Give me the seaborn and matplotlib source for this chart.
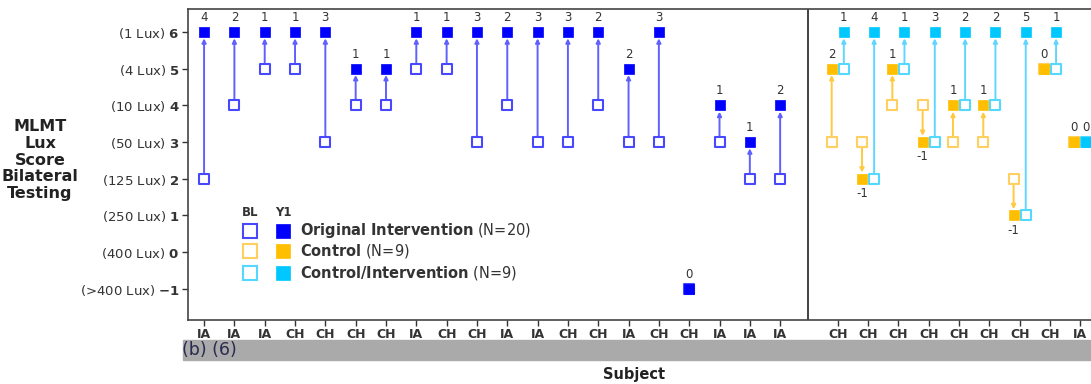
import numpy as np
import pandas as pd
import seaborn as sns
import matplotlib.pyplot as plt

# ---------------- data ----------------
y_levels = [6, 5, 4, 3, 2, 1, 0, -1]
y_lux = ["(1 Lux)", "(4 Lux)", "(10 Lux)", "(50 Lux)", "(125 Lux)", "(250 Lux)", "(400 Lux)", "(>400 Lux)"]

orig_subject = ["IA", "IA", "IA", "CH", "CH", "CH", "CH", "IA", "CH", "CH",
                "IA", "IA", "CH", "CH", "IA", "CH", "CH", "IA", "IA", "IA"]
orig_bl = [2, 4, 5, 5, 3, 4, 4, 5, 5, 3, 4, 3, 3, 4, 3, 3, -1, 3, 2, 2]
orig_y1 = [6, 6, 6, 6, 6, 5, 5, 6, 6, 6, 6, 6, 6, 6, 5, 6, -1, 4, 3, 4]

ci_subject = ["CH", "CH", "CH", "CH", "CH", "CH", "CH", "CH", "IA"]
ctrl_bl = [3, 3, 4, 4, 3, 3, 2, 5, 3]
ctrl_y1 = [5, 2, 5, 3, 4, 4, 1, 5, 3]
cint_bl = [5, 2, 5, 3, 4, 4, 1, 5, 3]
cint_y1 = [6, 6, 6, 6, 6, 6, 6, 6, 3]

legend_labels = [("Original Intervention", "(N=20)"), ("Control", "(N=9)"), ("Control/Intervention", "(N=9)")]

# ---------------- style ----------------
sns.set_theme(style="white")
plt.rcParams["font.family"] = ["DejaVu Sans", "Liberation Sans"]
plt.rcParams["mathtext.fontset"] = "custom"
plt.rcParams["mathtext.rm"] = "DejaVu Sans"
plt.rcParams["mathtext.bf"] = "DejaVu Sans:bold"

BLUE_F, BLUE_E, BLUE_L = "#0000ff", "#4848ff", "#6060ff"
ORG_F, ORG_E, ORG_L = "#ffbf00", "#ffd060", "#ffca40"
CYN_F, CYN_E, CYN_L = "#00c8ff", "#55d8ff", "#60d6ff"
DARK = "#333333"

W, H = 1091, 384
fig = plt.figure(figsize=(W / 100, H / 100), dpi=100)

x_min, x_max = -0.53, 29.6
px_per_unit = 30.32
ax_left = 188 / W
ax_width = (x_max - x_min) * px_per_unit / W
ax_bottom = (H - 320) / H
ax_height = (320 - 9) / H
ax = fig.add_axes([ax_left, ax_bottom, ax_width, ax_height])

# positions
x_orig = np.arange(len(orig_subject), dtype=float)
x_ci = 20.9 + np.arange(len(ci_subject), dtype=float)
off = 0.2


def draw_series(xs, bl, y1, fc, ec, lc):
    df = pd.DataFrame({"x": xs, "bl": bl, "y1": y1})
    for _, r in df.iterrows():
        if r.bl != r.y1:
            ax.annotate("", xy=(r.x, r.y1), xytext=(r.x, r.bl),
                        arrowprops=dict(arrowstyle="-|>", color=lc, lw=1.4,
                                        shrinkA=4.5, shrinkB=4.5, mutation_scale=6),
                        zorder=2)
    sns.scatterplot(data=df, x="x", y="bl", marker="s", s=58, color="white",
                    edgecolor=ec, linewidth=1.5, ax=ax, zorder=3, legend=False)
    sns.scatterplot(data=df, x="x", y="y1", marker="s", s=62, color=fc,
                    edgecolor=fc, linewidth=0.5, ax=ax, zorder=4, legend=False)
    for _, r in df.iterrows():
        d = int(r.y1 - r.bl)
        dy = -10.5 if d < 0 else 10.5
        ax.annotate(f"{d}", xy=(r.x, r.y1), xytext=(0, dy), textcoords="offset points",
                    ha="center", va="center", fontsize=8.5, color=DARK, zorder=5)


draw_series(x_orig, orig_bl, orig_y1, BLUE_F, BLUE_E, BLUE_L)
draw_series(x_ci - off, ctrl_bl, ctrl_y1, ORG_F, ORG_E, ORG_L)
draw_series(x_ci + off, cint_bl, cint_y1, CYN_F, CYN_E, CYN_L)

# divider
ax.axvline(19.92, color="#222222", lw=1.2, zorder=1)

ax.set_xlim(x_min, x_max)
ax.set_ylim(-1.85, 6.63)
ax.set_yticks(y_levels)
ax.set_yticklabels([f"{lux} $\\mathbf{{{v}}}$" for lux, v in zip(y_lux, y_levels)],
                   fontsize=9.5, color=DARK)
ax.set_xticks(list(x_orig) + list(x_ci))
ax.set_xticklabels(orig_subject + ci_subject, fontsize=9, fontweight="bold", color=DARK)
ax.tick_params(axis="both", direction="out", length=4, width=1, color=DARK,
               bottom=True, left=True, pad=2)
ax.set_xlabel("")
ax.set_ylabel("")
for s in ax.spines.values():
    s.set_color("#444444")
    s.set_linewidth(1.2)


def fx(px):
    return px / W


def fy(py):
    return 1 - py / H


# y label
fig.text(fx(40), fy(160), "MLMT\nLux\nScore\nBilateral\nTesting", ha="center", va="center",
         fontsize=11.5, fontweight="bold", color="#222222", linespacing=1.15)

# gray band
band = plt.Rectangle((fx(183), fy(360)), 1 - fx(183), fy(340) - fy(360),
                     transform=fig.transFigure, color="#aaaaaa", zorder=10)
fig.add_artist(band)
fig.text(fx(182), fy(350), "(b) (6)", ha="left", va="center", fontsize=12.5,
         color="#2a2a50", zorder=11)

fig.text(fx(634), fy(374), "Subject", ha="center", va="center", fontsize=10.5,
         fontweight="bold", color="#222222")

# custom legend
fig.text(fx(250), fy(212), "BL", ha="center", va="center", fontsize=8.5, fontweight="bold", color=DARK)
fig.text(fx(283), fy(212), "Y1", ha="center", va="center", fontsize=8.5, fontweight="bold", color=DARK)
rows_y = [231, 251, 272.5]
leg_cols = [(BLUE_F, BLUE_E), (ORG_F, ORG_E), (CYN_F, CYN_E)]
for (name, n), (fc, ec), ry in zip(legend_labels, leg_cols, rows_y):
    fig.lines.append(plt.Line2D([fx(250)], [fy(ry)], marker="s", markersize=10,
                                markerfacecolor="white", markeredgecolor=ec, markeredgewidth=1.5,
                                transform=fig.transFigure, linestyle="none"))
    fig.lines.append(plt.Line2D([fx(283)], [fy(ry)], marker="s", markersize=10,
                                markerfacecolor=fc, markeredgecolor=fc, markeredgewidth=0.5,
                                transform=fig.transFigure, linestyle="none"))
    label = "$\\mathbf{" + name.replace(" ", "\\ ") + "}$ " + n
    fig.text(fx(300), fy(ry), label, ha="left", va="center", fontsize=10.5, color=DARK)

fig.savefig("out.png", dpi=100)
